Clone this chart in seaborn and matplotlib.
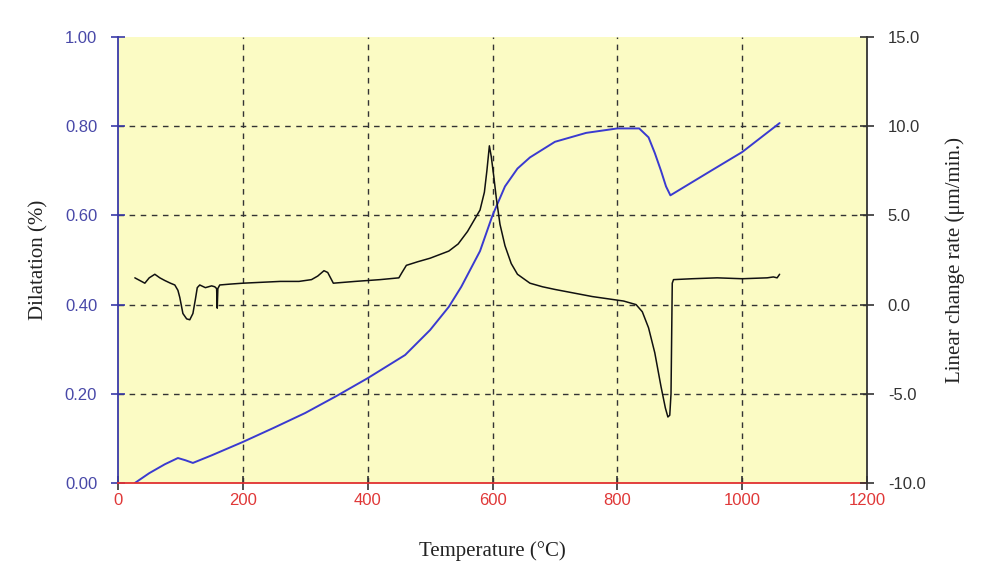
import matplotlib
matplotlib.use("Agg")
import matplotlib.pyplot as plt
import seaborn as sns
import numpy as np
import pandas as pd

# Dilatation curve (left axis, %)
dil_temp = [27, 50, 75, 96, 108, 120, 150, 200, 250, 300, 350, 400, 460, 500, 530, 550, 580,
            600, 620, 640, 660, 700, 750, 800, 835, 850, 860, 870, 878, 885, 950, 1000, 1060]
dil_val = [0.0, 0.022, 0.042, 0.056, 0.051, 0.045, 0.062, 0.092, 0.124, 0.157, 0.195, 0.235, 0.287,
           0.343, 0.395, 0.44, 0.52, 0.60, 0.665, 0.705, 0.73, 0.765, 0.785, 0.795, 0.795, 0.775,
           0.74, 0.70, 0.665, 0.645, 0.70, 0.742, 0.807]

# Linear change rate curve (right axis, um/min)
rate_temp = [27, 35, 43, 50, 59, 67, 75, 84, 91, 96, 99, 104, 110, 115, 120, 124, 127, 131, 140, 150,
             155, 158, 159, 160, 163, 180, 200, 230, 260, 290, 310, 320, 330, 336, 345, 380, 420,
             450, 455, 462, 480, 500, 515, 530, 545, 560, 570, 580, 587, 591, 595, 598, 602, 606,
             612, 620, 630, 640, 660, 680, 700, 730, 760, 790, 810, 830, 840, 850, 860, 870, 877,
             881, 884, 886, 888, 890, 920, 960, 1000, 1040, 1050, 1056, 1060]
rate_val = [1.5, 1.35, 1.2, 1.5, 1.7, 1.5, 1.35, 1.2, 1.1, 0.8, 0.4, -0.5, -0.8, -0.85, -0.5, 0.3, 0.95,
            1.1, 0.95, 1.05, 1.0, 0.9, -0.2, 0.9, 1.1, 1.15, 1.2, 1.25, 1.3, 1.3, 1.4, 1.6, 1.9,
            1.8, 1.2, 1.3, 1.4, 1.5, 1.8, 2.2, 2.4, 2.6, 2.8, 3.0, 3.4, 4.1, 4.7, 5.3, 6.3, 7.5,
            8.9, 8.3, 7.2, 6.0, 4.5, 3.3, 2.3, 1.7, 1.2, 1.0, 0.85, 0.65, 0.45, 0.3, 0.2, 0.0,
            -0.4, -1.3, -2.7, -4.6, -5.8, -6.3, -6.2, -5.0, 1.2, 1.4, 1.45, 1.5, 1.45, 1.5, 1.55,
            1.5, 1.7]

x_ticks = [0, 200, 400, 600, 800, 1000, 1200]
left_ticks = [0.0, 0.2, 0.4, 0.6, 0.8, 1.0]
right_ticks = [-10.0, -5.0, 0.0, 5.0, 10.0, 15.0]

sns.set_style("white")
plt.rcParams['font.family'] = ['Liberation Sans', 'DejaVu Sans']

fig = plt.figure(figsize=(9.87, 5.67), dpi=100)
ax = fig.add_axes([118/987, 84/567, 749/987, 446/567])
ax.set_facecolor('#fbfbc4')

df_d = pd.DataFrame({'T': dil_temp, 'D': dil_val})
df_r = pd.DataFrame({'T': rate_temp, 'R': rate_val})

sns.lineplot(data=df_d, x='T', y='D', ax=ax, color='#3a3ad0', linewidth=1.4, zorder=5)
ax.set_xlim(0, 1200)
ax.set_ylim(0, 1.0)
ax.set_xticks(x_ticks)
ax.set_yticks(left_ticks)
ax.set_yticklabels([f"{v:.2f}" for v in left_ticks])
ax.grid(True, linestyle=(0, (4, 4)), color='#333333', linewidth=1.0)
ax.set_axisbelow(True)
# hide grid lines lying on the frame edges
for gl in ax.get_xgridlines()[::len(x_ticks) - 1]:
    gl.set_visible(False)
for gl in ax.get_ygridlines()[::len(left_ticks) - 1]:
    gl.set_visible(False)

ax2 = ax.twinx()
sns.lineplot(data=df_r, x='T', y='R', ax=ax2, color='#111111', linewidth=1.1, zorder=4)
ax2.set_ylim(-10, 15)
ax2.set_yticks(right_ticks)
ax2.set_yticklabels([f"{v:.1f}" for v in right_ticks])
ax2.grid(False)

# spines
for a in (ax, ax2):
    a.spines['top'].set_visible(False)
ax.spines['left'].set_color('#3a3aa8')
ax.spines['left'].set_linewidth(1.3)
ax.spines['left'].set_zorder(10)
ax.spines['bottom'].set_color('#e03030')
ax.spines['bottom'].set_linewidth(1.3)
ax.spines['bottom'].set_zorder(10)
ax.spines['right'].set_visible(False)
ax2.spines['left'].set_visible(False)
ax2.spines['bottom'].set_visible(False)
ax2.spines['right'].set_color('#333333')
ax2.spines['right'].set_linewidth(1.3)

ax.tick_params(axis='y', colors='#3a3aa8', labelcolor='#4848a8', direction='inout', length=10,
               width=1.2, labelsize=12, pad=10, left=True)
ax.tick_params(axis='x', colors='#333333', labelcolor='#e03838', direction='inout', length=10,
               width=1.2, labelsize=12, pad=2, bottom=True)
ax2.tick_params(axis='y', colors='#333333', labelcolor='#333333', direction='inout', length=10,
                width=1.2, labelsize=12, pad=10, right=True)

ax.set_xlabel('Temperature (\u00b0C)', family=['Liberation Serif', 'DejaVu Serif'], fontsize=15,
              color='#222222', labelpad=24)
ax.set_ylabel('Dilatation (%)', family=['Liberation Serif', 'DejaVu Serif'], fontsize=15,
              color='#222222', labelpad=12)
ax2.set_ylabel('Linear change rate (\u03bcm/min.)', family=['Liberation Serif', 'DejaVu Serif'],
               fontsize=15, color='#222222', labelpad=14)

fig.savefig('out.png', dpi=100)
